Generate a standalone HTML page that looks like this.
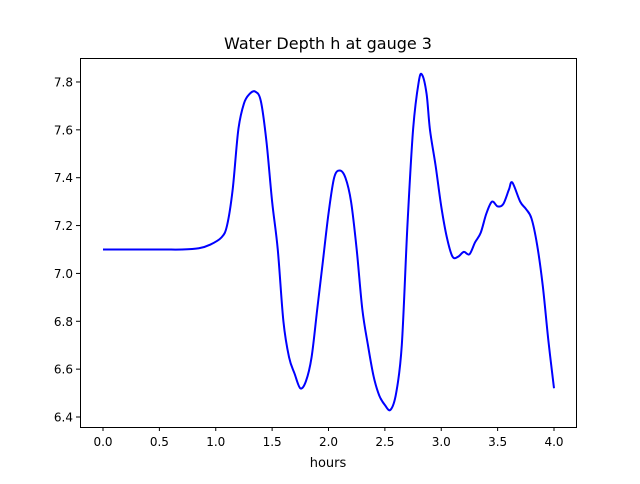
<!DOCTYPE html>
<html><head><meta charset="utf-8"><style>
body{margin:0;background:#fff;font-family:"DejaVu Sans","Liberation Sans",sans-serif}
svg text{font-family:"DejaVu Sans","Liberation Sans",sans-serif}
</style></head><body>
<svg id="c" width="640" height="480" xmlns="http://www.w3.org/2000/svg">
<rect width="640" height="480" fill="#fff"/>
<text x="328" y="49" font-size="16" text-anchor="middle">Water Depth h at gauge 3</text>
<text x="328" y="467" font-size="13" text-anchor="middle">hours</text>
<g id="ticks"></g>
<path id="line" fill="none" stroke="#0000ff" stroke-width="2"/>
<rect x="80.5" y="58.5" width="496" height="369" fill="none" stroke="#000" stroke-width="1"/>
</svg>
<script>
const hours=[0,0.5,0.7,0.85,0.95,1.05,1.1,1.15,1.2,1.25,1.3,1.35,1.4,1.45,1.5,1.55,1.6,1.65,1.7,1.75,1.8,1.85,1.9,1.95,2.0,2.05,2.1,2.15,2.2,2.25,2.3,2.35,2.4,2.45,2.5,2.55,2.6,2.65,2.7,2.75,2.8,2.83,2.87,2.9,2.95,3.0,3.05,3.1,3.15,3.2,3.25,3.3,3.35,3.4,3.45,3.5,3.55,3.6,3.63,3.7,3.75,3.8,3.85,3.9,3.95,4.0];
const depth=[7.10,7.10,7.10,7.105,7.12,7.15,7.2,7.35,7.6,7.71,7.75,7.76,7.72,7.55,7.3,7.1,6.8,6.65,6.58,6.52,6.55,6.65,6.85,7.05,7.25,7.4,7.43,7.4,7.3,7.1,6.85,6.7,6.57,6.49,6.45,6.43,6.5,6.7,7.2,7.6,7.8,7.83,7.75,7.6,7.45,7.28,7.15,7.07,7.07,7.09,7.08,7.13,7.17,7.25,7.30,7.28,7.29,7.35,7.38,7.3,7.27,7.23,7.12,6.95,6.72,6.52];
const xTicks=[0,0.5,1.0,1.5,2.0,2.5,3.0,3.5,4.0];
const yTicks=[6.4,6.6,6.8,7.0,7.2,7.4,7.6,7.8];
const X=v=>103+v*112.75, Y=v=>417-(v-6.4)*239.3;
const ns="http://www.w3.org/2000/svg",g=document.getElementById('ticks');
function mk(t,a){const e=document.createElementNS(ns,t);for(const k in a)e.setAttribute(k,a[k]);g.appendChild(e);return e;}
xTicks.forEach(v=>{const x=X(v);
const l=mk('line',{x1:x,x2:x,y1:427,y2:431,stroke:'#000'});


const t=mk('text',{x:x,y:446,'font-size':12,'text-anchor':'middle'});t.textContent=v.toFixed(1);

});
yTicks.forEach(v=>{const y=Y(v);
const l=mk('line',{x1:76,x2:80,y1:y,y2:y,stroke:'#000'});


const t=mk('text',{x:73,y:y+4.5,'font-size':12,'text-anchor':'end'});t.textContent=v.toFixed(1);

});
const P=hours.map((h,i)=>[X(h),Y(depth[i])]);
let d='M'+P[0][0]+','+P[0][1];
for(let i=0;i<P.length-1;i++){const p0=P[Math.max(0,i-1)],p1=P[i],p2=P[i+1],p3=P[Math.min(P.length-1,i+2)];
d+=` C${p1[0]+(p2[0]-p0[0])/6},${p1[1]+(p2[1]-p0[1])/6} ${p2[0]-(p3[0]-p1[0])/6},${p2[1]-(p3[1]-p1[1])/6} ${p2[0]},${p2[1]}`;}
document.getElementById('line').setAttribute('d',d);
</script>
</body></html>
